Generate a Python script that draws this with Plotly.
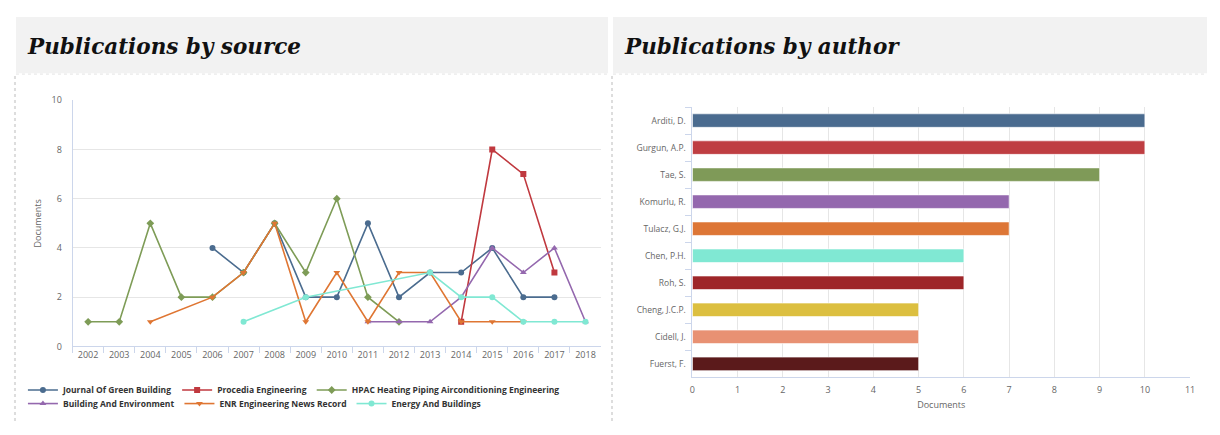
import plotly.graph_objects as go

years = [str(y) for y in range(2002, 2019)]

# Publications by source
src_names = ["Journal Of Green Building", "Procedia Engineering",
             "HPAC Heating Piping Airconditioning Engineering",
             "Building And Environment", "ENR Engineering News Record",
             "Energy And Buildings"]
jgb_x = ["2006", "2007", "2008", "2009", "2010", "2011", "2012", "2013", "2014", "2015", "2016", "2017"]
jgb_y = [4, 3, 5, 2, 2, 5, 2, 3, 3, 4, 2, 2]
proc_x = ["2014", "2015", "2016", "2017"]
proc_y = [1, 8, 7, 3]
hpac_x = ["2002", "2003", "2004", "2005", "2006", "2007", "2008", "2009", "2010", "2011", "2012"]
hpac_y = [1, 1, 5, 2, 2, 3, 5, 3, 6, 2, 1]
bae_x = ["2011", "2012", "2013", "2014", "2015", "2016", "2017", "2018"]
bae_y = [1, 1, 1, 2, 4, 3, 4, 1]
enr_x = ["2004", "2006", "2007", "2008", "2009", "2010", "2011", "2012", "2013", "2014", "2015", "2016"]
enr_y = [1, 2, 3, 5, 1, 3, 1, 3, 3, 1, 1, 1]
eab_x = ["2007", "2009", "2013", "2014", "2015", "2016", "2017", "2018"]
eab_y = [1, 2, 3, 2, 2, 1, 1, 1]

# Publications by author
authors = ["Arditi, D.", "Gurgun, A.P.", "Tae, S.", "Komurlu, R.", "Tulacz, G.J.",
           "Chen, P.H.", "Roh, S.", "Cheng, J.C.P.", "Cidell, J.", "Fuerst, F."]
author_docs = [10, 10, 9, 7, 7, 6, 6, 5, 5, 5]

src_colors = ["#4b6c8f", "#c0393f", "#7e9c57", "#9468ae", "#df7633", "#80e8d3"]
src_symbols = ["circle", "square", "diamond", "triangle-up", "triangle-down", "circle"]
bar_colors = ["#4a6b8f", "#bf3e42", "#7f9a58", "#9468ae", "#dd7636",
              "#80e8d3", "#9e2629", "#dcbf40", "#e89173", "#5b1a1b"]

# page body has an 8px default margin; size the figure so the page fits the window
OFF = 8
W, H = 1220 - 2 * OFF, 435 - 2 * OFF
def px(x):
    return (x - OFF) / W
def py(y):
    return (H - (y - OFF)) / H

fig = go.Figure()
series = [(jgb_x, jgb_y), (proc_x, proc_y), (hpac_x, hpac_y),
          (bae_x, bae_y), (enr_x, enr_y), (eab_x, eab_y)]
for i, (xs, ys) in enumerate(series):
    fig.add_trace(go.Scatter(
        x=xs, y=ys, name=src_names[i], mode="lines+markers",
        line=dict(color=src_colors[i], width=1.6),
        marker=dict(symbol=src_symbols[i], size=6, color=src_colors[i]),
        xaxis="x", yaxis="y",
        legend="legend" if i < 3 else "legend2",
    ))

fig.add_trace(go.Bar(
    x=author_docs, y=authors, orientation="h",
    marker=dict(color=bar_colors, line=dict(color="rgba(255,255,255,0.6)", width=1)),
    width=0.5, showlegend=False, xaxis="x2", yaxis="y2",
))

tick_font = dict(family="Open Sans", size=9, color="#666666")
shapes = [
    dict(type="rect", xref="paper", yref="paper", x0=px(13), x1=px(609), y0=py(68), y1=py(10),
         fillcolor="#f2f2f2", line=dict(width=0), layer="below"),
    dict(type="rect", xref="paper", yref="paper", x0=px(614), x1=1, y0=py(68), y1=py(10),
         fillcolor="#f2f2f2", line=dict(width=0), layer="below"),
    dict(type="line", xref="paper", yref="paper", x0=px(12), x1=px(12), y0=0, y1=py(70),
         line=dict(color="#dddddd", width=2, dash="dot")),
    dict(type="line", xref="paper", yref="paper", x0=px(613), x1=px(613), y0=0, y1=py(70),
         line=dict(color="#dddddd", width=2, dash="dot")),
    dict(type="line", xref="paper", yref="paper", x0=px(13), x1=px(609), y0=py(69), y1=py(69),
         line=dict(color="#e4e4e4", width=1, dash="dot")),
    dict(type="line", xref="paper", yref="paper", x0=px(614), x1=1, y0=py(69), y1=py(69),
         line=dict(color="#e4e4e4", width=1, dash="dot")),
]

title_font = dict(family="DejaVu Serif", size=21.5, color="#111111", weight="bold", style="italic")
annotations = [
    dict(text="Publications by source", xref="paper", yref="paper", x=px(22), y=py(41),
         xanchor="left", yanchor="middle", showarrow=False, font=title_font),
    dict(text="Publications by author", xref="paper", yref="paper", x=px(623), y=py(41),
         xanchor="left", yanchor="middle", showarrow=False, font=title_font),
]

legend_font = dict(family="Open Sans", size=8.5, color="#333333", weight="bold")
fig.update_layout(
    width=W, height=H, margin=dict(l=0, r=0, t=0, b=0),
    paper_bgcolor="white", plot_bgcolor="white",
    shapes=shapes, annotations=annotations,
    xaxis=dict(domain=[px(70), px(602)], type="category", categoryorder="array",
               categoryarray=years, range=[-0.5, 16.5], tickfont=tick_font,
               showline=True, linecolor="#ccd6eb", linewidth=1, showgrid=False,
               ticks="outside", tickson="boundaries", ticklen=6, tickcolor="#ccd6eb",
               anchor="y", fixedrange=True),
    yaxis=dict(domain=[py(350), py(96)], range=[0, 10], dtick=2, tickfont=tick_font,
               showgrid=True, gridcolor="#e6e6e6", zeroline=False,
               showline=True, linecolor="#ccd6eb", linewidth=1,
               title=dict(text="Documents", font=dict(family="Open Sans", size=9, color="#666666"), standoff=8),
               anchor="x", ticklabelstandoff=8),
    xaxis2=dict(domain=[px(694), px(1195)], range=[0, 11], dtick=1, tickfont=tick_font,
                showgrid=True, gridcolor="#e6e6e6", zeroline=False,
                showline=True, linecolor="#ccd6eb", linewidth=1,
                title=dict(text="Documents", font=dict(family="Open Sans", size=9, color="#666666"), standoff=6),
                anchor="y2", ticklabelstandoff=4),
    yaxis2=dict(domain=[py(382), py(103)], type="category", autorange="reversed",
                tickfont=dict(family="Open Sans", size=8.5, color="#666666"),
                showline=True, linecolor="#ccd6eb", linewidth=1, showgrid=False,
                ticks="outside", tickson="boundaries", ticklen=6, tickcolor="#ccd6eb",
                anchor="x2", ticklabelstandoff=4),
    legend=dict(orientation="h", x=px(20), y=py(395), xanchor="left", yanchor="middle",
                font=legend_font, itemwidth=30, bgcolor="rgba(0,0,0,0)", tracegroupgap=0),
    legend2=dict(orientation="h", x=px(20), y=py(409), xanchor="left", yanchor="middle",
                 font=legend_font, itemwidth=30, bgcolor="rgba(0,0,0,0)", tracegroupgap=0),
    bargap=0.5,
)

fig.write_html("out.html")
